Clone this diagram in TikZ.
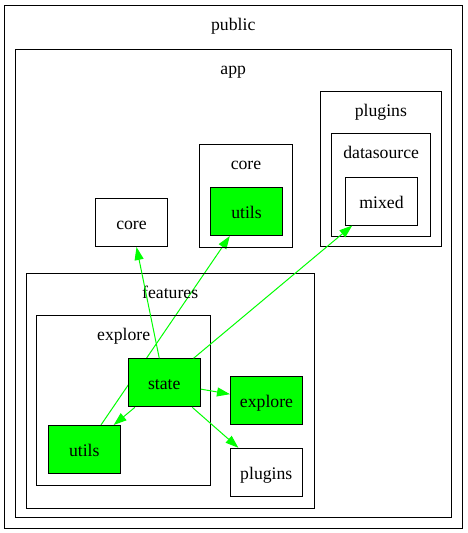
\documentclass[tikz,border=0pt]{standalone}
\usepackage{fontspec}
\setmainfont{Liberation Serif}
\usetikzlibrary{arrows.meta,backgrounds}

\begin{document}
\begin{tikzpicture}[x=1pt,y=-1pt,font=\fontsize{17.7}{20}\selectfont,
	mod/.style={draw,line width=1pt,minimum width=72pt,minimum height=48pt,inner sep=0pt,text height=16pt,text depth=2pt},
	used/.style={mod,fill=green},
	dep/.style={green,line width=1pt,-{Triangle[length=13pt,width=9pt]}}]
\useasboundingbox (0,0) rectangle (468,533);
	\foreach \n/\xa/\ya/\xb/\yb/\t in {public/4.5/5/462/528/public,app/15.5/49/451/517.5/app,
		coregrp/199.3/144.3/292.7/247.3/core,pluginsgrp/320.7/91/441/246.7/plugins,
		datasource/331.7/133.3/430.7/236.7/datasource,features/26/273.3/314.3/508.3/features,
		exploregrp/36.7/315.7/210.7/485/explore} {
		\draw[line width=1pt] (\xa,\ya) rectangle (\xb,\yb);
		\node[anchor=base] (\n) at ({(\xa+\xb)/2},\ya+25) {\t};
	}
\node[mod] (core) at (131.5,222.5) {core};
\node[used] (coreutils) at (246.5,211.5) {utils};
\node[mod] (mixed) at (381.5,201) {mixed};
\node[used] (state) at (164.3,382.8) {state};
\node[used] (utils) at (84.3,449.5) {utils};
\node[used] (explore) at (266.5,400.5) {explore};
\node[mod] (plugins) at (266.3,472.3) {plugins};
	\begin{scope}[on background layer]
	\draw[dep] (utils) -- (coreutils);
	\end{scope}
	\foreach \t in {core,mixed,utils,explore,plugins}
		\draw[dep] (state) -- (\t);
\end{tikzpicture}
\end{document}
